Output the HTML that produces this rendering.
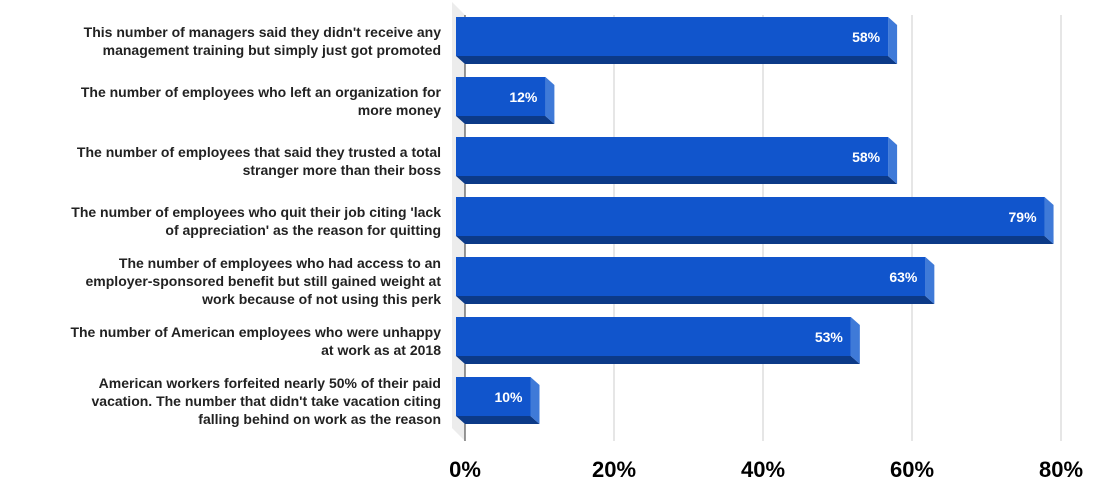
<!DOCTYPE html>
<html><head><meta charset="utf-8"><style>
body{margin:0;background:#fff;}
svg{display:block;font-family:"Liberation Sans",Arial,sans-serif;}
</style></head><body>
<svg width="1095" height="489" id="chart"></svg>
<script>
const categories=[
["This number of managers said they didn't receive any","management training but simply just got promoted"],
["The number of employees who left an organization for","more money"],
["The number of employees that said they trusted a total","stranger more than their boss"],
["The number of employees who quit their job citing 'lack","of appreciation' as the reason for quitting"],
["The number of employees who had access to an","employer-sponsored benefit but still gained weight at","work because of not using this perk"],
["The number of American employees who were unhappy","at work as at 2018"],
["American workers forfeited nearly 50% of their paid","vacation. The number that didn't take vacation citing","falling behind on work as the reason"]
];
const values=[58,12,58,79,63,53,10];
const ticks=[0,20,40,60,80];
const NS="http://www.w3.org/2000/svg";
const svg=document.getElementById('chart');
const x0=465,pxPer=149/20,dx=9,dy=8;
const xs=v=>x0+v*pxPer;
const rowTop=i=>17+i*60;
function mk(t,a,p){const e=document.createElementNS(NS,t);for(const k in a)e.setAttribute(k,a[k]);(p||svg).appendChild(e);return e;}
// wall
const wall=mk('polygon',{points:"452,2 465,15 465,441 452,428",fill:"#ececec"});


// grid
ticks.forEach(t=>{
  const x=xs(t);
  const g=mk('line',{x1:x,x2:x,y1:15,y2:441,stroke:t===0?"#333":"#ccc","stroke-width":1});
  
  
  const tl=mk('text',{x:x,y:477,"text-anchor":"middle","font-size":"22","font-weight":"bold",fill:"#000"});
  tl.textContent=t+'%';
  
  
});
values.forEach((v,i)=>{
  const top=rowTop(i),bot=top+39;
  const xe=xs(v), xf=xe-dx, xl=456;
  const g=mk('g',{});
  
  
  mk('polygon',{points:`${xl},${bot} ${xf},${bot} ${xe},${bot+dy} ${xl+dx},${bot+dy}`,fill:"#0c3a88"},g);
  mk('polygon',{points:`${xf},${top} ${xe},${top+dy} ${xe},${bot+dy} ${xf},${bot}`,fill:"#3f7ad8"},g);
  mk('rect',{x:xl,y:top,width:xf-xl,height:bot-top,fill:"#1155cc"},g);
  const vl=mk('text',{x:xf-8,y:top+25,"text-anchor":"end","font-size":"14","font-weight":"bold",fill:"#fff"},g);
  vl.textContent=v+'%';
  
  
  const lines=categories[i];
  const cy=top+24;
  const t=mk('text',{"text-anchor":"end","font-size":"14","font-weight":"bold",fill:"#222"});
  
  
  lines.forEach((ln,j)=>{
    const ts=mk('tspan',{x:441,y:cy+5-(lines.length-1)*9+j*18},t);
    ts.textContent=ln;
  });
});
</script>
</body></html>
